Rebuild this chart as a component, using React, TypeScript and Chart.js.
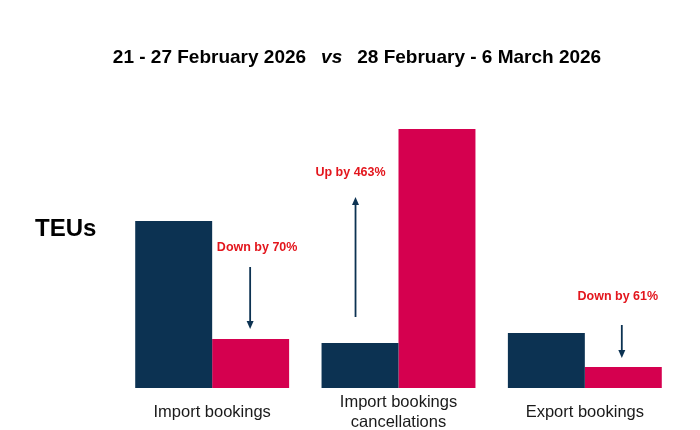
import React, { useEffect, useRef } from "react";
import { Chart, registerables } from "chart.js";

Chart.register(...registerables);

const categories: (string | string[])[] = [
  "Import bookings",
  ["Import bookings", "cancellations"],
  "Export bookings",
];
const periodA = "21 - 27 February 2026";
const periodB = "28 February - 6 March 2026";
const valuesA = [167, 45, 55];
const valuesB = [49, 259, 21];
const yMax = 288;

// annotations: text, which bar they relate to, text height and arrow from/to (value units)
const annoText = ["Down by 70%", "Up by 463%", "Down by 61%"];
const annoDataset = [1, 0, 1];
const annoTextY = [140, 215, 91];
const arrowFrom = [121, 71, 63];
const arrowTo = [59, 191, 30];

const NAVY = "#0c3252";
const PINK = "#d5004f";
const RED = "#e3161d";
const FONT = "'Liberation Sans', Arial, sans-serif";

const textOffsetX = [6.5, -9.5, -5.5];
const arrowOffsetX = [-0.5, -4.5, -1.5];

const overlay = {
  id: "overlay",
  afterDraw(chart: any) {
    const ctx = chart.ctx as CanvasRenderingContext2D;
    const ys = chart.scales.y;
    ctx.save();
    // title
    ctx.fillStyle = "#000";
    ctx.textBaseline = "middle";
    ctx.textAlign = "left";
    const titleY = 58;
    ctx.font = `bold 19px ${FONT}`;
    const wA = ctx.measureText(periodA).width;
    const wB = ctx.measureText(periodB).width;
    ctx.font = `italic bold 19px ${FONT}`;
    const wVs = ctx.measureText("vs").width;
    const gap = 15;
    const total = wA + wB + wVs + 2 * gap;
    let x = 357 - total / 2;
    ctx.font = `bold 19px ${FONT}`;
    ctx.fillText(periodA, x, titleY);
    x += wA + gap;
    ctx.font = `italic bold 19px ${FONT}`;
    ctx.fillText("vs", x, titleY);
    x += wVs + gap;
    ctx.font = `bold 19px ${FONT}`;
    ctx.fillText(periodB, x, titleY);

    // TEUs
    ctx.font = `bold 24px ${FONT}`;
    ctx.fillText("TEUs", 35, 229);

    // annotations
    for (let i = 0; i < annoText.length; i++) {
      const bar = chart.getDatasetMeta(annoDataset[i]).data[i];
      const cx = bar.x;
      ctx.font = `bold 12.5px ${FONT}`;
      ctx.fillStyle = RED;
      ctx.textAlign = "center";
      ctx.fillText(annoText[i], cx + textOffsetX[i], ys.getPixelForValue(annoTextY[i]));
      const ax = cx + arrowOffsetX[i];
      const y1 = ys.getPixelForValue(arrowFrom[i]);
      const y2 = ys.getPixelForValue(arrowTo[i]);
      const dir = y2 > y1 ? 1 : -1;
      ctx.strokeStyle = NAVY;
      ctx.fillStyle = NAVY;
      ctx.lineWidth = 1.8;
      ctx.beginPath();
      ctx.moveTo(ax, y1);
      ctx.lineTo(ax, y2 - dir * 6);
      ctx.stroke();
      ctx.beginPath();
      ctx.moveTo(ax, y2);
      ctx.lineTo(ax - 3.5, y2 - dir * 8);
      ctx.lineTo(ax + 3.5, y2 - dir * 8);
      ctx.closePath();
      ctx.fill();
    }
    ctx.restore();
  },
};

export default function App() {
  const ref = useRef<HTMLCanvasElement | null>(null);
  useEffect(() => {
    document.body.style.margin = "0";
    const chart = new Chart(ref.current as HTMLCanvasElement, {
      type: "bar",
      data: {
        labels: categories,
        datasets: [
          { label: periodA, data: valuesA, backgroundColor: NAVY, categoryPercentage: 0.826, barPercentage: 1.0 },
          { label: periodB, data: valuesB, backgroundColor: PINK, categoryPercentage: 0.826, barPercentage: 1.0 },
        ],
      },
      options: {
        animation: false,
        responsive: false,
        maintainAspectRatio: false,
        layout: { padding: { left: 119, right: 22, top: 100, bottom: 0 } },
        plugins: { legend: { display: false }, tooltip: { enabled: false }, title: { display: false } },
        scales: {
          x: {
            grid: { display: false, drawTicks: false },
            border: { display: false },
            ticks: {
              color: "#1a1a1a",
              font: { family: FONT, size: 16.5 },
              padding: 14.5,
              crossAlign: "center",
              maxRotation: 0,
              autoSkip: false,
            },
            afterFit: (axis: any) => {
              axis.height = 42;
            },
          },
          y: { display: false, min: 0, max: yMax },
        },
      },
      plugins: [overlay],
    });
    return () => chart.destroy();
  }, []);
  return (
    <div style={{ position: "fixed", left: 0, top: 0, width: 700, height: 430, background: "#fff" }}>
      <canvas ref={ref} width={700} height={430} />
    </div>
  );
}
